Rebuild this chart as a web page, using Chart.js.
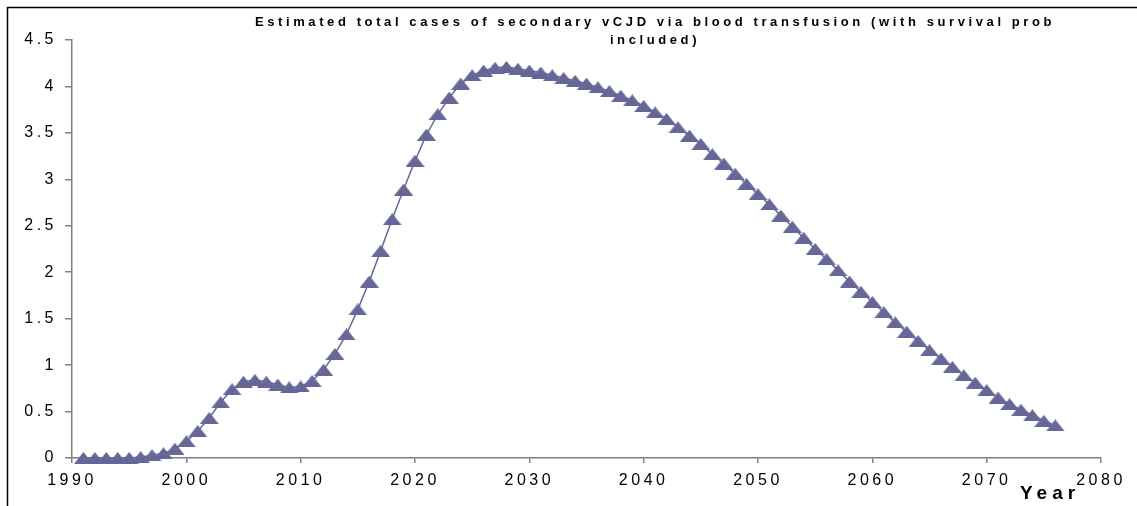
<!DOCTYPE html>
<html>
<head>
<meta charset="utf-8">
<script src="https://cdn.jsdelivr.net/npm/chart.js@4.4.1/dist/chart.umd.min.js"></script>
<style>
    html, body { margin: 0; padding: 0; background: #fff; }
    #wrap { width: 1137px; height: 506px; position: relative; }
</style>
</head>
<body>
<div id="wrap"><canvas id="casosChart"></canvas></div>
<script>
const anos = [1991, 1992, 1993, 1994, 1995, 1996, 1997, 1998, 1999, 2000,
    2001, 2002, 2003, 2004, 2005, 2006, 2007, 2008, 2009, 2010,
    2011, 2012, 2013, 2014, 2015, 2016, 2017, 2018, 2019, 2020,
    2021, 2022, 2023, 2024, 2025, 2026, 2027, 2028, 2029, 2030,
    2031, 2032, 2033, 2034, 2035, 2036, 2037, 2038, 2039, 2040,
    2041, 2042, 2043, 2044, 2045, 2046, 2047, 2048, 2049, 2050,
    2051, 2052, 2053, 2054, 2055, 2056, 2057, 2058, 2059, 2060,
    2061, 2062, 2063, 2064, 2065, 2066, 2067, 2068, 2069, 2070,
    2071, 2072, 2073, 2074, 2075, 2076];

const casos = [0, 0, 0, 0, 0, 0.01, 0.03, 0.05, 0.1, 0.18,
    0.29, 0.43, 0.6, 0.74, 0.82, 0.84, 0.82, 0.79, 0.76, 0.77,
    0.83, 0.95, 1.12, 1.33, 1.6, 1.9, 2.23, 2.57, 2.89, 3.2,
    3.48, 3.7, 3.88, 4.03, 4.12, 4.17, 4.2, 4.21, 4.19, 4.17,
    4.15, 4.12, 4.09, 4.06, 4.03, 3.99, 3.95, 3.9, 3.85, 3.79,
    3.72, 3.65, 3.56, 3.47, 3.38, 3.27, 3.17, 3.06, 2.95, 2.84,
    2.73, 2.61, 2.49, 2.37, 2.25, 2.14, 2.02, 1.9, 1.79, 1.68,
    1.57, 1.46, 1.36, 1.26, 1.16, 1.07, 0.98, 0.89, 0.81, 0.73,
    0.65, 0.58, 0.52, 0.46, 0.4, 0.35];

const ticksX = [1990, 2000, 2010, 2020, 2030, 2040, 2050, 2060, 2070, 2080];
const ticksY = [0, 0.5, 1, 1.5, 2, 2.5, 3, 3.5, 4, 4.5];

const tituloLinhas = ['Estimated total cases of secondary vCJD via blood transfusion (with survival prob', 'included)'];
const tituloEixoX = 'Year';

const COR = '#666699';
const FONTE = '"Liberation Sans", Arial, sans-serif';

function criarTriangulo() {
    let c = document.createElement('canvas');
    c.width = 19;
    c.height = 12;
    let g = c.getContext('2d');
    g.fillStyle = COR;
    g.beginPath();
    g.moveTo(9.5, 0);
    g.lineTo(19, 12);
    g.lineTo(0, 12);
    g.closePath();
    g.fill();
    return c;
}

// moldura, titulo e "Year" desenhados a mao, com espacamento entre letras
const moldura = {
    id: 'moldura',
    beforeLayout(chart) {
        chart.ctx.letterSpacing = '3.5px';
    },
    beforeDraw(chart) {
        let ctx = chart.ctx;
        ctx.save();
        ctx.fillStyle = '#fff';
        ctx.fillRect(0, 0, chart.width, chart.height);
        ctx.strokeStyle = '#000';
        ctx.lineWidth = 1.5;
        ctx.strokeRect(7.5, 7.5, chart.width + 50, chart.height + 50);
        ctx.restore();
        ctx.letterSpacing = '3.5px';
    },
    afterDraw(chart) {
        let ctx = chart.ctx;
        ctx.save();
        ctx.fillStyle = '#000';
        ctx.textAlign = 'center';
        ctx.textBaseline = 'middle';
        ctx.letterSpacing = '3.6px';
        ctx.font = 'bold 13px ' + FONTE;
        ctx.fillText(tituloLinhas[0], 655, 22);
        ctx.fillText(tituloLinhas[1], 655, 40);

        ctx.letterSpacing = '5px';
        ctx.font = 'bold 19px ' + FONTE;
        ctx.textAlign = 'left';
        ctx.fillText(tituloEixoX, 1020, 494);
        ctx.restore();
    }
};

function construirGrafico() {
    let pontos = anos.map((ano, i) => ({x: ano, y: casos[i]}));

    let ctx = document.getElementById('casosChart').getContext('2d');

    let myChart = new Chart(ctx, {
        type: 'line',
        data: {
            datasets: [{
                data: pontos,
                borderColor: COR,
                borderWidth: 1.5,
                backgroundColor: COR,
                pointStyle: criarTriangulo(),
                pointRadius: 7,
                pointHoverRadius: 7,
                tension: 0,
                clip: false
            }]
        },
        options: {
            responsive: true,
            maintainAspectRatio: false,
            animation: false,
            events: [],
            layout: {
                padding: {top: 40, right: 36, bottom: 0, left: 0}
            },
            plugins: {
                legend: {display: false},
                title: {display: false},
                tooltip: {enabled: false}
            },
            scales: {
                x: {
                    type: 'linear',
                    min: 1990,
                    max: 2080,
                    afterBuildTicks: s => { s.ticks = ticksX.map(v => ({value: v})); },
                    afterFit: s => { s.height = 48; },
                    grid: {drawOnChartArea: false, tickLength: 5, color: '#808080', lineWidth: 1.5},
                    border: {color: '#808080', width: 1.5},
                    ticks: {
                        color: '#000',
                        padding: 8,
                        maxRotation: 0,
                        font: {family: FONTE, size: 16},
                        callback: v => String(v)
                    }
                },
                y: {
                    min: 0,
                    max: 4.5,
                    afterBuildTicks: s => { s.ticks = ticksY.map(v => ({value: v})); },
                    afterFit: s => { s.width = 72; },
                    grid: {drawOnChartArea: false, tickLength: 7, color: '#808080', lineWidth: 1.5},
                    border: {color: '#808080', width: 1.5},
                    ticks: {
                        color: '#000',
                        padding: 8,
                        font: {family: FONTE, size: 16},
                        callback: v => String(v)
                    }
                }
            }
        },
        plugins: [moldura]
    });
}

construirGrafico();
</script>
</body>
</html>
